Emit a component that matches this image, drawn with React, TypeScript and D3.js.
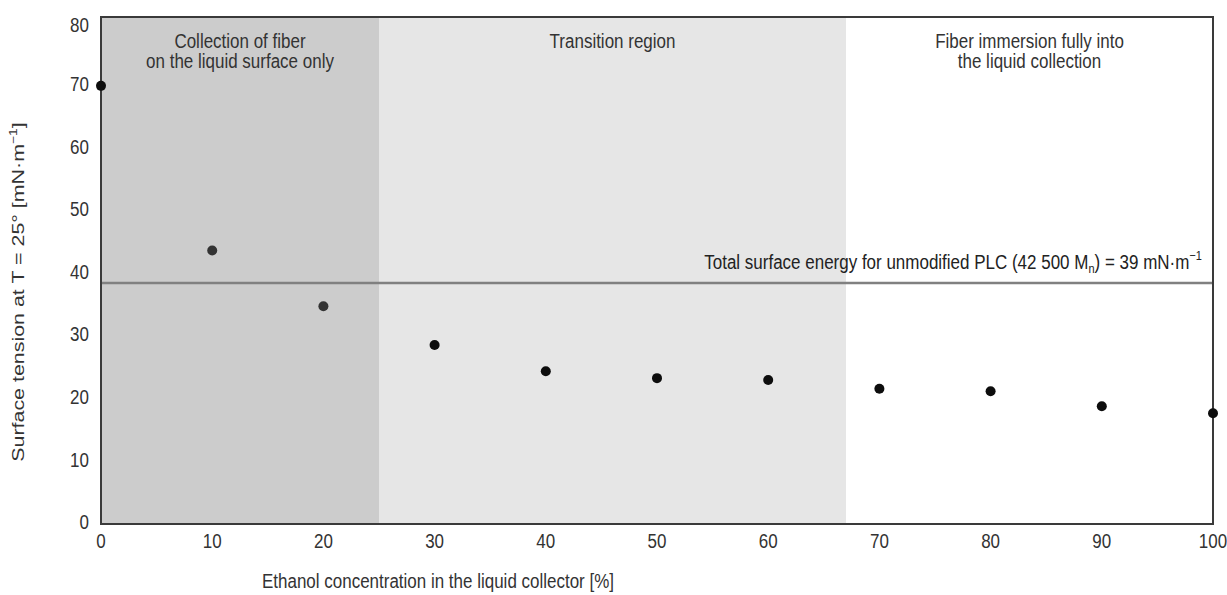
import React, { useRef, useEffect } from 'react';
import * as d3 from 'd3';

// ethanol concentration [%] and measured surface tension [mN/m]
const concentrations = [0, 10, 20, 30, 40, 50, 60, 70, 80, 90, 100];
const surfaceTension = [70.0, 43.7, 34.8, 28.6, 24.4, 23.3, 23.0, 21.6, 21.2, 18.8, 17.7];

const xTicks = [0, 10, 20, 30, 40, 50, 60, 70, 80, 90, 100];
const yTicks = [0, 10, 20, 30, 40, 50, 60, 70, 80];

// shaded regions [from, to] in % ethanol
const regionStarts = [0, 25, 67];
const regionEnds = [25, 67, 100];
const regionFills = ['#cccccc', '#e6e6e6', '#ffffff'];
const regionLabels = [
  ['Collection of fiber', 'on the liquid surface only'],
  ['Transition region'],
  ['Fiber immersion fully into', 'the liquid collection'],
];

const plcSurfaceEnergy = 38.5;

const FONT = 'Liberation Sans, Arial, sans-serif';
const STRETCH = 1.15; // glyphs in the source are a bit taller than wide

// text helper: places a label at (x, y) with the slight vertical stretch
const addText = (parent, x, y, str, anchor = 'middle', size = 17) =>
  parent
    .append('text')
    .attr('transform', `translate(${x},${y}) scale(1,${STRETCH})`)
    .attr('text-anchor', anchor)
    .attr('dominant-baseline', 'middle')
    .attr('font-family', FONT)
    .attr('font-size', size)
    .attr('fill', '#333')
    .text(str);

const App = () => {
  const svgRef = useRef<SVGSVGElement>(null);

  useEffect(() => {
    const svg = d3.select(svgRef.current);
    svg.selectAll('*').remove();

    const margin = { top: 17, right: 14, bottom: 71, left: 101 };
    const width = 1227;
    const height = 595;
    const innerWidth = width - margin.left - margin.right;
    const innerHeight = height - margin.top - margin.bottom;

    const g = svg.append('g').attr('transform', `translate(${margin.left},${margin.top})`);

    const x = d3.scaleLinear().domain([0, 100]).range([0, innerWidth]);
    const y = d3.scaleLinear().domain([0, 81]).range([innerHeight, 0]);

    // background regions + their captions
    regionStarts.forEach((s, i) => {
      g.append('rect')
        .attr('x', x(s))
        .attr('y', 0)
        .attr('width', x(regionEnds[i]) - x(s))
        .attr('height', innerHeight)
        .attr('fill', regionFills[i]);

      const cx = (x(s) + x(regionEnds[i])) / 2;
      regionLabels[i].forEach((line, j) => {
        addText(g, cx, 26 + j * 20, line);
      });
    });

    // reference line for PLC
    g.append('line')
      .attr('x1', 0)
      .attr('x2', innerWidth)
      .attr('y1', y(plcSurfaceEnergy))
      .attr('y2', y(plcSurfaceEnergy))
      .attr('stroke', '#808080')
      .attr('stroke-width', 2.5);

    const lbl = addText(g, x(99), y(plcSurfaceEnergy) - 19, '', 'end').attr('fill', '#222');
    lbl.append('tspan').text('Total surface energy for unmodified PLC (42 500 M');
    lbl.append('tspan').attr('font-size', 11).attr('dy', 5).text('n');
    lbl.append('tspan').attr('dy', -5).text(') = 39 mN·m');
    lbl.append('tspan').attr('font-size', 11).attr('dy', -6).text('−1');

    // frame
    g.append('rect')
      .attr('width', innerWidth)
      .attr('height', innerHeight)
      .attr('fill', 'none')
      .attr('stroke', '#3a3a3a')
      .attr('stroke-width', 2);

    // points
    g.selectAll('circle.pt')
      .data(concentrations)
      .enter()
      .append('circle')
      .attr('class', 'pt')
      .attr('cx', d => x(d))
      .attr('cy', (d, i) => y(surfaceTension[i]))
      .attr('r', 5)
      .attr('fill', d => (d > 0 && d < 25 ? '#333' : '#0d0d0d'));

    // tick labels
    yTicks.forEach(d => addText(g, -12, y(d) + (d === 80 ? 4 : 0), d, 'end'));
    xTicks.forEach(d => addText(g, x(d), innerHeight + 19, d));

    // axis titles
    addText(svg, 438, 583, 'Ethanol concentration in the liquid collector [%]');

    const yt = svg.append('text')
      .attr('transform', 'translate(20,292) rotate(-90) scale(1.26,1)')
      .attr('text-anchor', 'middle')
      .attr('dominant-baseline', 'middle')
      .attr('font-family', FONT)
      .attr('font-size', 17)
      .attr('fill', '#333');
    yt.append('tspan').text('Surface tension at T = 25° [mN·m');
    yt.append('tspan').attr('font-size', 11).attr('dy', -6).text('−1');
    yt.append('tspan').attr('dy', 6).text(']');
  }, []);

  return (
    <svg
      ref={svgRef}
      width={1227}
      height={595}
      style={{ position: 'absolute', left: 0, top: 0, background: '#fff' }}
    />
  );
};

export default App;
